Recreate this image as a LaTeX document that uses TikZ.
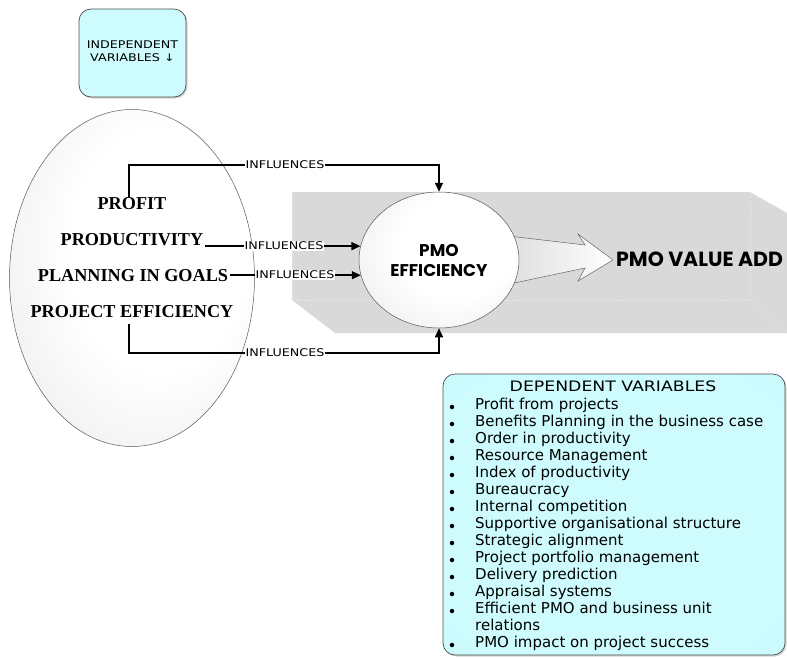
\documentclass[tikz,border=0pt]{standalone}
\usepackage{fontspec}
\setmainfont{Liberation Serif}
\newfontfamily\listfont{DejaVu Sans}
\newfontfamily\widefont[FakeStretch=1.2]{DejaVu Sans}
\newfontfamily\geofont{Poppins}
\usetikzlibrary{arrows.meta,shapes.geometric,shadows,calc}

\definecolor{cyanin}{RGB}{206,251,253}
\definecolor{cyanout}{RGB}{184,245,249}
\definecolor{prismfill}{RGB}{217,217,217}
\definecolor{prismedge}{RGB}{236,236,236}
\definecolor{ballrim}{RGB}{222,222,222}

% white centre fading to light grey at the rim
\pgfdeclareradialshading{softball}{\pgfpoint{8bp}{6bp}}{%
  color(0bp)=(white); color(18bp)=(white); color(52bp)=(ballrim); color(60bp)=(ballrim)}
\pgfdeclareradialshading{softcyan}{\pgfpoint{0bp}{0bp}}{%
  color(0bp)=(cyanin); color(30bp)=(cyanin); color(60bp)=(cyanout); color(75bp)=(cyanout)}

\begin{document}
\begin{tikzpicture}[x=1pt,y=-1pt,
  varbox/.style={draw=black!70, line width=0.7pt, rounded corners=12pt,
    shading=softcyan,
    drop shadow={shadow xshift=1.5pt, shadow yshift=-1.5pt, opacity=.35}},
  varellipse/.style={ellipse, draw=black!65, line width=0.5pt, shading=softball},
  vartext/.style={font=\fontsize{18.2}{21}\selectfont\bfseries, inner sep=2pt},
  flow/.style={line width=1.6pt, -{Triangle[length=9pt,width=8pt]}},
  lab/.style={fill=white, inner sep=0.8pt, font=\widefont\fontsize{10.6}{12}\selectfont},
  itemtext/.style={anchor=base west, inner sep=0pt, font=\listfont\fontsize{15}{17}\selectfont},
  bullet/.style={circle, fill=black, inner sep=0pt, minimum size=4.5pt},
]
\useasboundingbox (0,0) rectangle (787,657);

% grey prism behind the central part
\fill[prismfill] (292,192) -- (750,192) -- (787,213) -- (787,333)
  -- (335,333) -- (292,300) -- cycle;
\draw[prismedge, line width=0.6pt, dotted] (292,192) -- (292,300) -- (750,300) -- (750,192);
\draw[prismedge, line width=0.6pt, dotted] (750,300) -- (787,331);

% independent variables box
\node[varbox, minimum width=107pt, minimum height=88pt] (indepbox) at (132.5,53) {};
\node[align=center, font=\widefont\fontsize{10.6}{13}\selectfont] (indeptitle) at (132.5,51)
  {INDEPENDENT\\VARIABLES ↓};

% large ellipse holding the independent variables
\node[varellipse, minimum width=245pt, minimum height=337pt] (indep) at (132,278) {};
\node[vartext] (profit) at (132,204) {PROFIT};
\node[vartext] (productivity) at (132,240) {PRODUCTIVITY};
\node[vartext] (planning) at (133,276) {PLANNING IN GOALS};
\node[vartext] (projeff) at (132,312) {PROJECT EFFICIENCY};

% block arrow towards the value add
\shade[left color=black!14, right color=white, draw=black!60, line width=0.5pt]
  (500,235) -- (585,245) -- (578,234) -- (613,260) -- (578,281) -- (585,268)
  -- (500,286) -- cycle;

% central ellipse
\node[varellipse, minimum width=160pt, minimum height=136pt, align=center,
  font=\geofont\bfseries\fontsize{17}{20}\selectfont] (pmo) at (439,260) {PMO\\EFFICIENCY};

\node[anchor=west, inner sep=3pt, font=\geofont\bfseries\fontsize{20.5}{22}\selectfont]
  (value) at (613,259) {PMO VALUE ADD};

% influence connectors
\coordinate (toptrack) at (439,165);
\coordinate (bottrack) at (439,353);
\draw[flow] ($(profit.north)+(-3,1)$) |- (toptrack) -- (pmo.north);
\draw[flow] (productivity.east |- pmo.170) -- (pmo.170);
\draw[flow] (planning.east |- pmo.191) -- (pmo.191);
\draw[flow] ($(projeff.south)+(-3,4)$) |- (bottrack) -- (pmo.south);

\node[lab] (inf1) at (285,165) {INFLUENCES};
\node[lab] (inf2) at (284,246) {INFLUENCES};
\node[lab] (inf3) at (295,275) {INFLUENCES};
\node[lab] (inf4) at (285,353) {INFLUENCES};

% dependent variables box
\node[varbox, minimum width=342pt, minimum height=281pt] (depbox) at (614,514.5) {};
\node[font=\widefont\fontsize{14.4}{16}\selectfont, inner sep=0pt] (deptitle) at (613,386)
  {DEPENDENT VARIABLES};

\foreach \txt [count=\i] in {Profit from projects,
  Benefits Planning in the business case,
  Order in productivity,
  Resource Management,
  Index of productivity,
  Bureaucracy,
  Internal competition,
  Supportive organisational structure,
  Strategic alignment,
  Project portfolio management,
  Delivery prediction,
  Appraisal systems,
  Efficient PMO and business unit,
  relations,
  PMO impact on project success}{
  \node[itemtext] (item\i) at (475,{392.5+17*\i}) {\txt};
}
\foreach \i in {1,...,13,15}{
  \node[bullet] (dot\i) at (452,{390+17*\i}) {};
}
\end{tikzpicture}
\end{document}
